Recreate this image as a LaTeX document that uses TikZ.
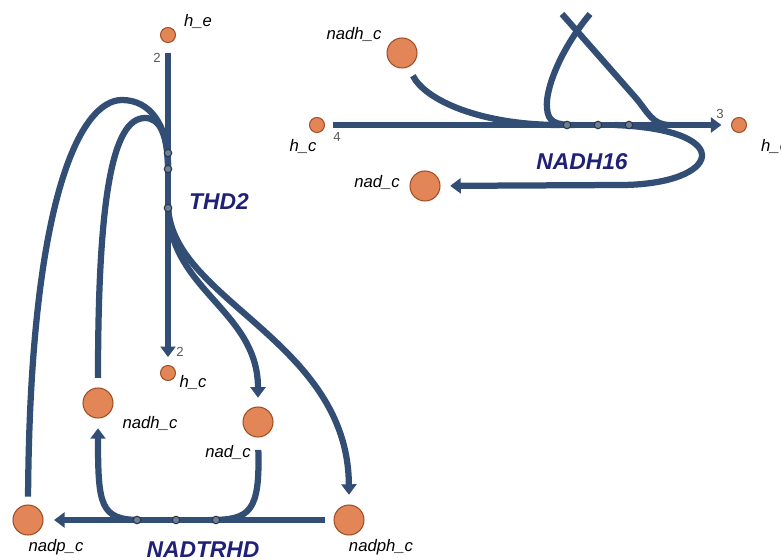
\documentclass[tikz,border=0pt]{standalone}
\usepackage{fontspec}
\setmainfont{Liberation Sans}
\usetikzlibrary{arrows.meta}
\definecolor{segblue}{RGB}{51,78,117}
\definecolor{metfill}{RGB}{226,134,88}
\definecolor{metedge}{RGB}{160,78,38}
\definecolor{rxnname}{RGB}{32,32,120}
\definecolor{midfill}{RGB}{112,126,142}
\begin{document}
\begin{tikzpicture}[x=0.02cm,y=-0.02cm,
  met/.style={circle, draw=metedge, fill=metfill, line width=0.6pt, inner sep=0pt, minimum size=0.6cm},
  metsm/.style={met, minimum size=0.3cm},
  midpt/.style={circle, draw=segblue!70!black, fill=midfill, line width=0.6pt, inner sep=0pt, minimum size=0.15cm},
  seg/.style={draw=segblue, line width=0.125cm},
  prod/.style={seg, -{Triangle[width=8.5pt,length=6pt]}},
  lbl/.style={font=\fontsize{9.5}{11}\selectfont\itshape},
  rxnlbl/.style={text=rxnname, font=\fontsize{13}{15}\selectfont\bfseries\itshape},
  stoich/.style={text=black!65, font=\fontsize{7.5}{9}\selectfont}]
\useasboundingbox (0,0) rectangle (781,560);
\clip (0,0) rectangle (781,560);

% metabolites
\node[metsm] (he1) at (168,35) {};
\node[metsm] (hc1) at (168,373) {};
\node[met] (nadp) at (28,520) {};
\node[met] (nadph) at (349,520) {};
\node[met] (nadh1) at (98,403) {};
\node[met] (nad1) at (258,422) {};
\node[metsm] (hc2) at (317,125) {};
\node[metsm] (he2) at (739,125) {};
\node[met] (nadh2) at (402,53) {};
\node[met] (nad2) at (425,186) {};

% points where side segments meet the reaction lines
\coordinate (thdA) at (168,165);
\coordinate (thdB) at (168,170);
\coordinate (thdC) at (168,205);
\coordinate (trL) at (140,520);
\coordinate (trR) at (210,520);
\coordinate (n16L) at (560,125);
\coordinate (n16R) at (615,125);
\coordinate (n16S) at (575,125);
\coordinate (n16T) at (670,125);
\coordinate (offA) at (562,14);
\coordinate (offB) at (590,14);

% THD2
\draw[prod, shorten <=5.5pt, shorten >=4.5pt] (he1) -- (hc1);
\draw[seg, shorten <=4.5pt] (nadp.north) .. controls (30,200) and (80,100) .. (122,100)
  .. controls (150,100) and (168,125) .. (thdA);
\draw[seg, shorten <=5.5pt] (nadh1.north) .. controls (98,200) and (112,118) .. (145,118)
  .. controls (160,118) and (168,135) .. (thdB);
\draw[prod, shorten >=5pt] (thdC) .. controls (168,290) and (258,310) .. (nad1.north);
\draw[prod, shorten >=5.5pt] (thdC) .. controls (170,300) and (348,340) .. (nadph.north);

% NADTRHD
\draw[prod, shorten <=5pt, shorten >=6pt] (nadph) -- (nadp);
\draw[seg, shorten <=7pt] (nad1.south) .. controls (260,512) and (250,520) .. (trR);
\draw[prod, shorten >=5.5pt] (trL) .. controls (100,520) and (98,505) .. (nadh1.south);

% NADH16
\draw[prod, shorten <=4.8pt, shorten >=5.4pt] (hc2) -- (he2);
\draw[seg, shorten <=5.5pt] (nadh2.-65) .. controls (425,100) and (480,125) .. (n16L);
\draw[prod, shorten >=5.5pt] (n16R) .. controls (740,130) and (720,185) .. (620,185) -- (nad2);
\draw[seg] (offA) -- (635,97) .. controls (648,112) and (652,125) .. (n16T);
\draw[seg] (offB) .. controls (560,50) and (545,90) .. (547,108)
  .. controls (548,122) and (555,125) .. (n16S);

% reaction midpoints
\foreach \y [count=\i] in {153,169,208}
  \node[midpt] (thddot\i) at (168,\y) {};
\foreach \x [count=\i] in {137,176,216}
  \node[midpt] (trdot\i) at (\x,520) {};
\foreach \x [count=\i] in {567,598,629}
  \node[midpt] (n16dot\i) at (\x,125) {};

% labels
\node[lbl] (he1lbl) at (198,21) {h\_e};
\node[stoich] (thds1) at (157,58) {2};
\node[rxnlbl] (thdlbl) at (219,202) {THD2};
\node[stoich] (thds2) at (180,352) {2};
\node[lbl] (hc1lbl) at (193,382) {h\_c};
\node[lbl] (nadh1lbl) at (150,423) {nadh\_c};
\node[lbl] (nad1lbl) at (228,452) {nad\_c};
\node[lbl] (nadplbl) at (56,547) {nadp\_c};
\node[lbl] (nadphlbl) at (381,547) {nadph\_c};
\node[rxnlbl] (trlbl) at (203,550) {NADTRHD};
\node[lbl] (nadh2lbl) at (354,34) {nadh\_c};
\node[lbl] (nad2lbl) at (377,182) {nad\_c};
\node[lbl] (hc2lbl) at (303,146) {h\_c};
\node[stoich] (n16s1) at (337,137) {4};
\node[stoich] (n16s2) at (720,114) {3};
\node[lbl, anchor=west] (he2lbl) at (755,146) {h\_e};
\node[rxnlbl] (n16lbl) at (582,162) {NADH16};
\end{tikzpicture}
\end{document}
